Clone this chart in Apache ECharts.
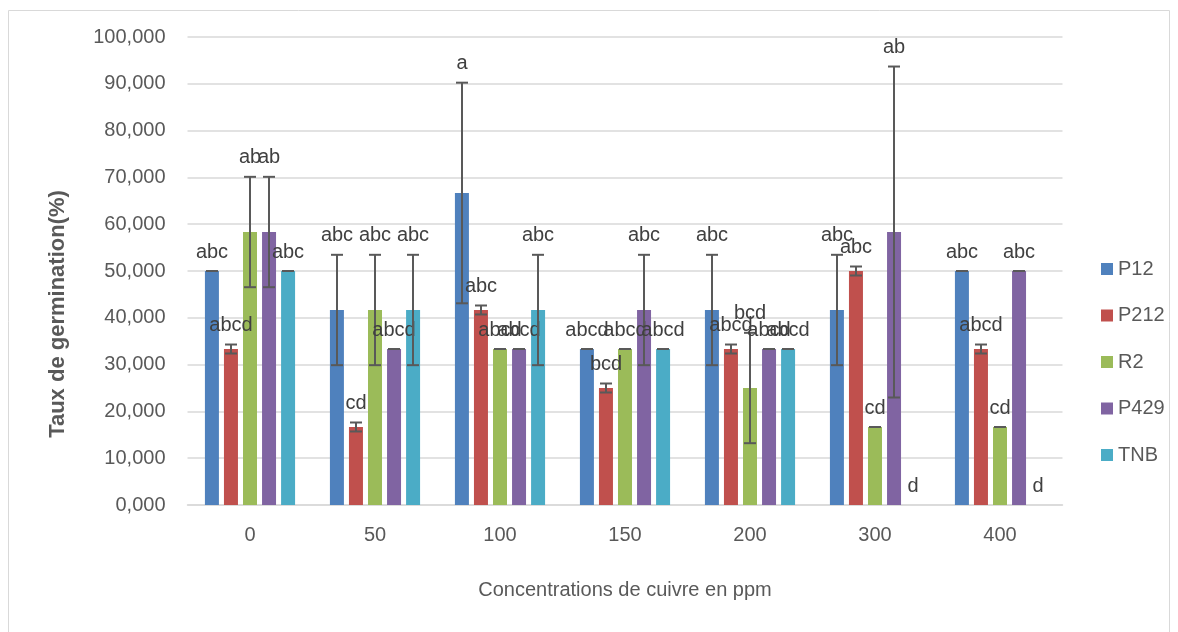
<!DOCTYPE html>
<html>
<head>
<meta charset="utf-8">
<script src="https://cdn.jsdelivr.net/npm/echarts@6/dist/echarts.min.js"></script>
<style>
  html, body { margin: 0; padding: 0; background: #fff; }
  #chart { width: 1178px; height: 632px; }
</style>
</head>
<body>
<div id="chart"></div>
<script>
// concentrations de cuivre (ppm)
var categories = ['0', '50', '100', '150', '200', '300', '400'];
var seriesNames = ['P12', 'P212', 'R2', 'P429', 'TNB'];
var colors = ['#4f81bd', '#c0504d', '#9bbb59', '#8064a2', '#4bacc6'];

// moyennes
var p12 = [50, 41.67, 66.67, 33.33, 41.67, 41.67, 50];
var p212 = [33.33, 16.67, 41.67, 25, 33.33, 50, 33.33];
var r2 = [58.33, 41.67, 33.33, 33.33, 25, 16.67, 16.67];
var p429 = [58.33, 33.33, 33.33, 41.67, 33.33, 58.33, 50];
var tnb = [50, 41.67, 41.67, 33.33, 33.33, 0, 0];

// erreurs
var p12Err = [0, 11.79, 23.57, 0, 11.79, 11.79, 0];
var p212Err = [0.96, 0.96, 0.96, 0.96, 0.96, 0.96, 0.96];
var r2Err = [11.79, 11.79, 0, 0, 11.79, 0, 0];
var p429Err = [11.79, 0, 0, 11.79, 0, 35.36, 0];
var tnbErr = [0, 11.79, 11.79, 0, 0, 0, 0];

// lettres
var p12Letters = ['abc', 'abc', 'a', 'abcd', 'abc', 'abc', 'abc'];
var p212Letters = ['abcd', 'cd', 'abc', 'bcd', 'abcd', 'abc', 'abcd'];
var r2Letters = ['ab', 'abc', 'abcd', 'abcd', 'bcd', 'cd', 'cd'];
var p429Letters = ['ab', 'abcd', 'abcd', 'abc', 'abcd', 'ab', 'abc'];
var tnbLetters = ['abc', 'abc', 'abc', 'abcd', 'abcd', 'd', 'd'];

var means = [p12, p212, r2, p429, tnb];
var errs = [p12Err, p212Err, r2Err, p429Err, tnbErr];
var letters = [p12Letters, p212Letters, r2Letters, p429Letters, tnbLetters];

var barW = 14;
var step = 19; // largeur barre + espace

var series = [];
seriesNames.forEach(function (name, i) {
    series.push({
        name: name,
        type: 'bar',
        barWidth: barW,
        barGap: '36%',
        itemStyle: { color: colors[i] },
        data: means[i]
    });
});

seriesNames.forEach(function (name, i) {
    var off = (i - 2) * step;
    var d = [];
    for (var k = 0; k < categories.length; k++) {
        d.push([k, means[i][k], errs[i][k], letters[i][k]]);
    }
    series.push({
        name: name + ' err',
        type: 'custom',
        z: 5,
        data: d,
        renderItem: function (params, api) {
            var c = api.value(0), m = api.value(1), e = api.value(2);
            var lab = letters[i][params.dataIndex];
            var x = api.coord([c, m])[0] + off;
            var yTop = api.coord([c, m + e])[1];
            var yBot = api.coord([c, m - e])[1];
            var st = { stroke: '#595959', lineWidth: 2 };
            var half = 6;
            var kids = [];
            if (m > 0) {
                kids.push({ type: 'line', shape: { x1: x, y1: yTop, x2: x, y2: yBot }, style: st });
                kids.push({ type: 'line', shape: { x1: x - half, y1: yTop, x2: x + half, y2: yTop }, style: st });
                kids.push({ type: 'line', shape: { x1: x - half, y1: yBot, x2: x + half, y2: yBot }, style: st });
            }
            kids.push({
                type: 'text',
                x: x, y: yTop - 19,
                style: {
                    text: lab, fill: '#404040',
                    font: '20px "Liberation Sans"',
                    align: 'center', verticalAlign: 'middle'
                }
            });
            return { type: 'group', children: kids };
        }
    });
});

var chart = echarts.init(document.getElementById('chart'));
var option = {
    animation: false,
    textStyle: { fontFamily: 'Liberation Sans' },
    grid: { left: 187.5, right: 115.5, top: 37, bottom: 127 },
    legend: {
        orient: 'vertical',
        left: 1096,
        top: 254,
        itemWidth: 12,
        itemHeight: 12,
        itemGap: 26.5,
        icon: 'rect',
        data: seriesNames,
        textStyle: { fontSize: 20, color: '#595959', fontFamily: 'Liberation Sans' }
    },
    xAxis: {
        type: 'category',
        data: categories,
        axisLine: { lineStyle: { color: '#d9d9d9', width: 1.5 } },
        axisTick: { show: false },
        axisLabel: { fontSize: 20, color: '#595959', margin: 20 },
        name: 'Concentrations de cuivre en ppm',
        nameLocation: 'middle',
        nameGap: 75,
        nameTextStyle: { fontSize: 20, color: '#595959' }
    },
    yAxis: {
        type: 'value',
        min: 0, max: 100, interval: 10,
        axisLine: { show: false },
        axisTick: { show: false },
        splitLine: { lineStyle: { color: '#d9d9d9', width: 1.5 } },
        axisLabel: {
            fontSize: 20, color: '#595959', margin: 22,
            formatter: function (v) { return v.toFixed(3).replace('.', ','); }
        }
    },
    graphic: [
        {
            type: 'rect',
            shape: { x: 8.5, y: 10.5, width: 1161, height: 640 },
            style: { fill: 'none', stroke: '#d9d9d9', lineWidth: 1 }
        },
        {
            type: 'text',
            x: 58, y: 314,
            rotation: Math.PI / 2,
            style: {
                text: 'Taux de germination(%)',
                fill: '#595959',
                font: 'bold 22px "Liberation Sans"',
                align: 'center', verticalAlign: 'middle'
            }
        }
    ],
    series: series
};
chart.setOption(option);
</script>
</body>
</html>
